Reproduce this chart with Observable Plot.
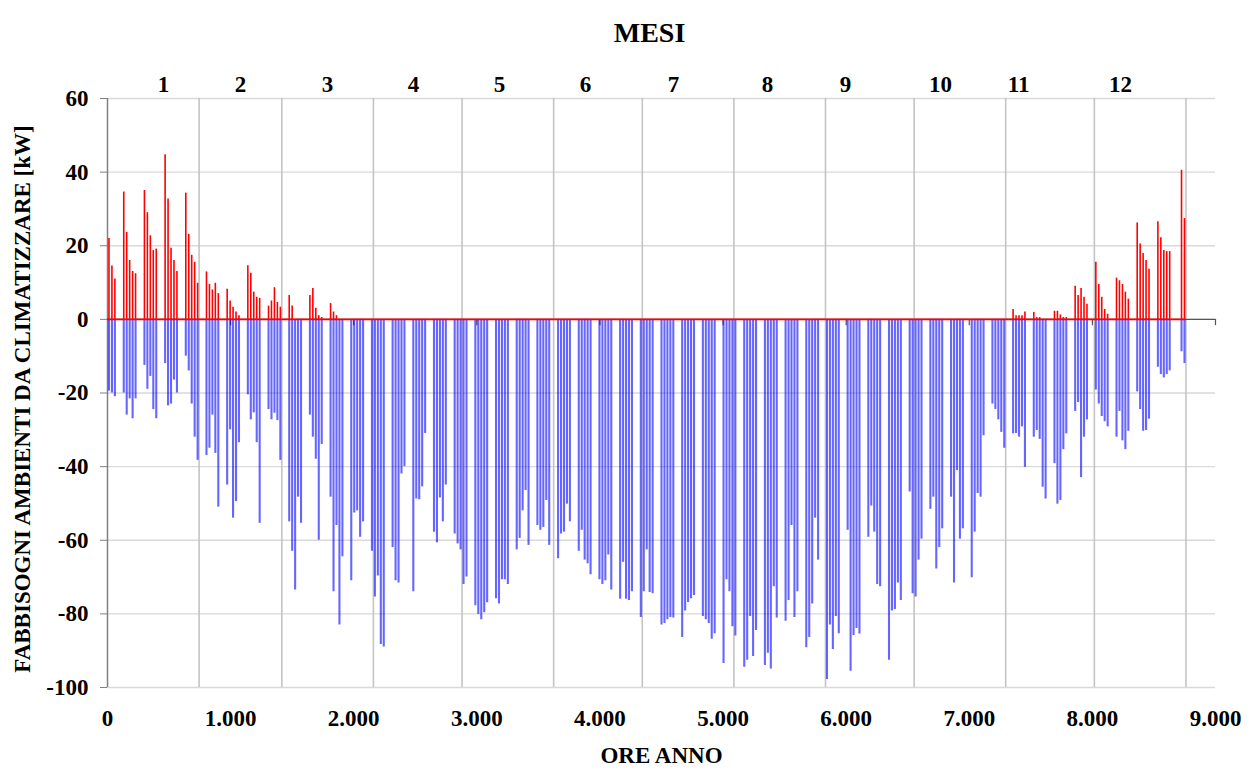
<!DOCTYPE html>
<html><head><meta charset="utf-8">
<script src="https://cdn.jsdelivr.net/npm/d3@7"></script>
<script src="https://cdn.jsdelivr.net/npm/@observablehq/plot@0.6"></script>
<style>body{margin:0;background:#fff} svg{display:block}</style>
</head><body><div id="chart"></div>
<script>
// ---- data (kW, daily peaks; 0 = no load / weekend) ----
const monthDays = [31,28,31,30,31,30,31,31,30,31,30,31];
const monthLabels = ["1","2","3","4","5","6","7","8","9","10","11","12"];
const monthLabelHours = [455,1081,1787,2486,3184,3883,4597,5361,5995,6767,7400,8229];
const yTicks = [-100,-80,-60,-40,-20,0,20,40,60];
const xTicks = [0,1000,2000,3000,4000,5000,6000,7000,8000,9000];

const coolJan = [-19.5,-20,-21,0,0,-20,-26,-21.6,-27,-21.6,0,0,-12.5,-19,-15.5,-24.5,-27,0,0,-12,-23.5,-23,-16.5,-20,0,0,-10,-14,-23,-32,-38.3];
const coolFeb = [0,0,-37,-35,-26,-36.4,-51,0,0,-45,-30,-54,-49.5,-33.5,0,0,-20.5,-27.3,-25.4,-33.5,-55.4,0,0,-24.5,-27.3,-25.5,-27.5,-38.3];
const coolMar = [0,0,-55,-63,-73.5,-48.3,-55.4,0,0,-26,-32,-38,-60,-34,0,0,-48.3,-74,-56,-83,-64.5,0,0,-71,-52.6,-52,-59.2,-55,0,0,-63];
const coolApr = [-75.4,-69.7,-88.3,-89,0,0,-62,-71,-71.6,-42,-40,0,0,-74,-48.8,-49,-45.5,-31,0,0,-57.8,-60.7,-48.5,-55,-45,0,0,-58.3,-61,-62.6];
const coolMay = [-72,-70,0,0,-77.8,-80.2,-81.6,-79.7,-77,0,0,-75.9,-77.3,-70.7,-70.7,-72,0,0,-62.6,-59.5,-52,-46.5,-61.4,0,0,-56,-57.3,-56.5,-49.2,-61.4,0];
const coolJun = [0,-65,-58.3,-57.8,-50.2,-55,0,0,-63,-57.3,-65.4,-66.4,-69.4,0,0,-70.7,-72,-71,-64,-73.5,0,0,-76,-66,-76,-76.4,-74,0,0,-81];
const coolJul = [-74,-62.6,-74.2,-74.5,0,0,-83,-82.6,-81.6,-81,-81.1,0,0,-86.4,-79.2,-76.9,-75.9,-75,0,0,-80.7,-81.6,-82.6,-86.9,-85.4,0,0,-93.5,-70.7,-74,-83.5];
const coolAug = [-86,0,0,-94.5,-92.6,-80.7,-91.6,-84.5,0,0,-94,-90.7,-95,-72.6,-81.1,0,0,-82,-76.4,-56,-81,-74,0,0,-89.2,-86.4,-77.3,-54,-65.4,0,0];
const coolSep = [-97.8,-83,-89.7,-80.7,-85.4,0,0,-57.3,-95.6,-85.9,-84,-85.5,0,0,-59.2,-50.7,-57.8,-72,-72.6,0,0,-92.6,-79.2,-78.8,-71.6,-76.4,0,0,-46.9,-74.5];
const coolOct = [-75.4,-65.4,-59.7,0,0,-51.6,-48.3,-67.8,-62,-56.9,0,0,-48.3,-71.6,-41.1,-59.7,-56.9,0,0,-70.2,-57.8,-47.3,-48.3,-31.6,0,0,-23,-24.5,-27.3,-30.7,-35];
const coolNov = [0,0,-31.1,-31,-32,-29.2,-40.2,0,0,-32,-30.2,-32.6,-45.6,-48.8,0,0,-39.2,-50.2,-49.2,-35.4,-31.1,0,0,-25,-22.6,-43,-32,-27.3,0,0];
const coolDec = [-19.2,-23,-26.4,-27.8,-29.2,0,0,-32,-25,-33,-35.4,-30.4,0,0,-19.7,-24.5,-30.4,-30.2,-27.1,0,0,-13,-15,-15.9,-15,-14,0,0,0,-8.8,-12];

const heatJan = [22,14.5,11,0,0,34.6,23.6,16,13,12.4,0,0,35,29,22.7,18.7,19.1,0,0,44.7,32.7,19.3,16,13,0,0,34.3,23.1,17.4,15.5,9.8];
const heatFeb = [0,0,12.9,9.5,8,9.8,7,0,0,8.2,5,3.3,2,1,0,0,14.6,12.5,7.4,6,5.7,0,0,3.6,5,8.6,4.6,3.3];
const heatMar = [0,0,6.5,3.6,0,0,0,0,0,6.5,8.4,3,1,0.5,0,0,4.3,2,1,0,0,0,0,0,0,0,0,0,0,0,0];
const heatNov = [0,0,2.7,1,1,1,2,0,0,1.9,0.5,0.5,0,0,0,0,2.2,2.2,1.2,0.5,0.5,0,0,9,6.5,8.4,6,4.1,0,0];
const heatDec = [15.5,9.5,6,2.7,1.4,0,0,11.2,10.5,9.5,7.4,5.5,0,0,26.2,20.5,17.9,16,13.6,0,0,26.5,22.2,18.7,18.4,18.4,0,0,0,40.5,27.4];

// ---- build tables ----
const coolMonths = [coolJan,coolFeb,coolMar,coolApr,coolMay,coolJun,coolJul,coolAug,coolSep,coolOct,coolNov,coolDec];
const heatMonths = [heatJan,heatFeb,heatMar,[],[],[],[],[],[],[],heatNov,heatDec];
const monthStartDay = monthDays.map((_, m) => d3.sum(monthDays.slice(0, m)));
const hoursPerYear = d3.sum(monthDays) * 24;
function toDays(months) {
  const out = [];
  months.forEach((arr, m) => arr.forEach((v, i) => {
    if (v !== 0) out.push({hour: (monthStartDay[m] + i) * 24 + 12, value: v});
  }));
  return out;
}
const cooling = toDays(coolMonths);
const heating = toDays(heatMonths);
const monthEnds = monthDays.map((_, m) => (monthStartDay[m] + monthDays[m]) * 24);
const monthText = monthLabels.map((label, i) => ({label, hour: monthLabelHours[i]}));
const itFormat = d3.formatLocale({decimal: ",", thousands: ".", grouping: [3], currency: ["€", ""]}).format(",");

const chart = Plot.plot({
  width: 1251, height: 772,
  marginTop: 98, marginBottom: 85, marginLeft: 107, marginRight: 36,
  style: {fontFamily: "'Liberation Serif', 'Times New Roman', serif", fontWeight: "bold", fontSize: "23px", color: "#000", background: "#fff"},
  x: {domain: [0, 9000]},
  y: {domain: [-100, 60]},
  marks: [
    Plot.ruleY(yTicks, {stroke: "#d9d9d9", strokeWidth: 1.3}),
    Plot.ruleX(monthEnds, {stroke: "#c4c4c4", strokeWidth: 1.6}),
    Plot.ruleX([0], {stroke: "#808080", strokeWidth: 1.5}),
    Plot.ruleY([0], {stroke: "#555", strokeWidth: 1.3}),
    Plot.ruleX(xTicks.slice(1), {y1: 0, y2: -1.7, stroke: "#555", strokeWidth: 1.2}),
    Plot.ruleX(cooling, {x: "hour", y1: 0, y2: "value", stroke: "#0000ff", strokeOpacity: 0.6, strokeWidth: 2.1}),
    Plot.ruleX(heating, {x: "hour", y1: 0, y2: "value", stroke: "#ff0000", strokeWidth: 1.6}),
    Plot.ruleY([0], {x1: 0, x2: hoursPerYear, stroke: "#ff0000", strokeWidth: 1.8}),
    Plot.axisY({ticks: yTicks, tickSize: 7, tickPadding: 12, stroke: "#808080", fill: "#000", tickFormat: d => String(d), label: null, fontSize: 23}),
    Plot.axisX({ticks: xTicks, tickSize: 0, tickPadding: 22, fill: "#000", tickFormat: itFormat, label: null, fontSize: 23}),
    Plot.text(monthText, {x: "hour", text: "label", frameAnchor: "top", dy: -23, fontSize: 23, fill: "#000"}),
    Plot.text(["MESI"], {frameAnchor: "top", dx: -12, dy: -76, fontSize: 28, fill: "#000"}),
    Plot.text(["ORE ANNO"], {frameAnchor: "bottom", dy: 75, fontSize: 23, fill: "#000"}),
    Plot.text(["FABBISOGNI AMBIENTI DA CLIMATIZZARE [kW]"], {frameAnchor: "left", textAnchor: "middle", rotate: -90, dx: -85, dy: 6, fontSize: 23, fill: "#000"})
  ]
});
document.getElementById("chart").appendChild(chart);
</script>
</body></html>
